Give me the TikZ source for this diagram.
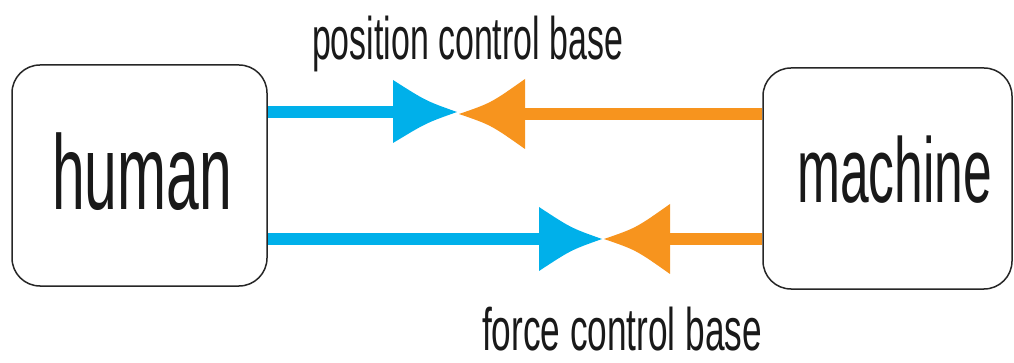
\documentclass[tikz,border=0pt]{standalone}
\usepackage{fontspec}
\setmainfont{Liberation Sans}
\usepackage{graphicx}
\definecolor{cblue}{HTML}{00B0EA}
\definecolor{corange}{HTML}{F7941E}
\begin{document}
\begin{tikzpicture}[x=1pt,y=-1pt,
  box/.style={draw=black!85, line width=1.5pt, rounded corners=28pt, fill=white, inner sep=0pt},
  blueline/.style={draw=cblue, line width=12pt},
  orangeline/.style={draw=corange, line width=12pt},
  bigtext/.style={anchor=base, inner sep=0pt, text=black!90, font=\fontsize{106}{110}\selectfont},
  midtext/.style={anchor=base, inner sep=0pt, text=black!90, font=\fontsize{92}{96}\selectfont},
  labeltext/.style={anchor=base, inner sep=0pt, text=black!90, font=\fontsize{60}{64}\selectfont}]
\useasboundingbox (0,0) rectangle (1014,363);
% boxes
\node[box, minimum width=255pt, minimum height=221pt] (human) at (139.5,175.5) {};
\node[box, minimum width=249pt, minimum height=221pt] (machine) at (887.5,178.5) {};
\node[bigtext] (humantext) at (142,210) {\scalebox{0.555}[1]{human}};
\node[midtext] (machinetext) at (894.5,203) {\scalebox{0.56}[1]{machine}};
% meeting points
\coordinate (btopbase) at (394,112);
\coordinate (otopbase) at (524,114);
\coordinate (bbotbase) at (540,239);
\coordinate (obotbase) at (669,239);
% top connectors
\draw[blueline] (human.east |- btopbase) -- (btopbase);
\fill[cblue] (393,80) .. controls (426,101) .. (457,112) .. controls (426,123) .. (393,143) -- cycle;
\draw[orangeline] (machine.west |- otopbase) -- (otopbase);
\fill[corange] (525,79) .. controls (491,103) .. (459,114) .. controls (491,125) .. (525,149) -- cycle;
% bottom connectors
\draw[blueline] (human.east |- bbotbase) -- (bbotbase);
\fill[cblue] (539,207) .. controls (571,228) .. (602,239) .. controls (571,250) .. (539,271) -- cycle;
\draw[orangeline] (machine.west |- obotbase) -- (obotbase);
\fill[corange] (670,204) .. controls (636,228) .. (604,239) .. controls (636,250) .. (670,274) -- cycle;
% labels
\node[labeltext] (poslabel) at (467.5,60) {\scalebox{0.565}[1]{position control base}};
\node[labeltext] (forcelabel) at (622,350) {\scalebox{0.587}[1]{force control base}};
\end{tikzpicture}
\end{document}
